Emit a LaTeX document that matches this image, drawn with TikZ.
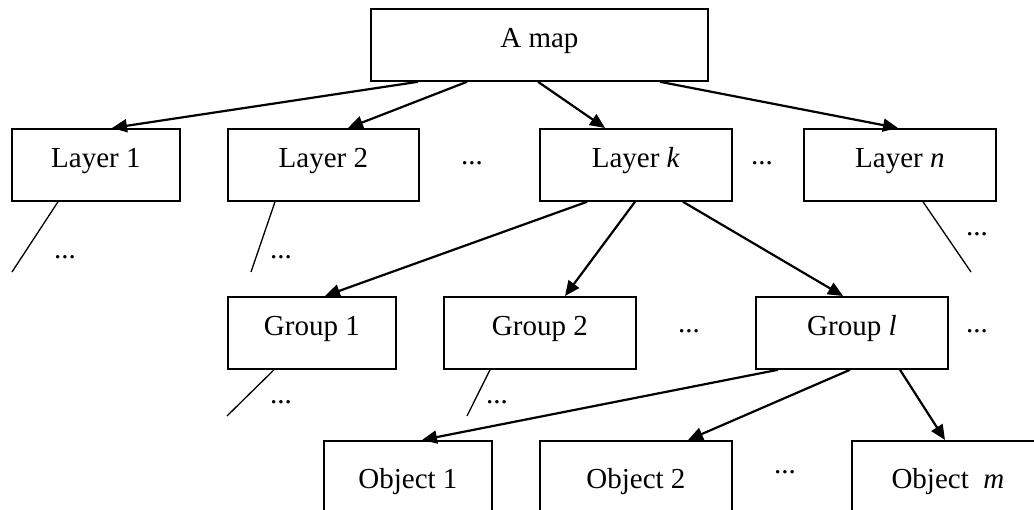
\documentclass[tikz,border=0pt]{standalone}
\usepackage{fontspec}
\setmainfont{Liberation Serif}
\usetikzlibrary{arrows.meta,calc}
\tikzset{
  box/.style={draw, line width=1.8pt, rectangle, anchor=north west, inner sep=0pt,
    minimum height=72pt, text height=39pt, text depth=33pt, align=center,
    font=\fontsize{29}{34}\selectfont},
  wbox/.style={box, minimum width=192pt},
  nbox/.style={box, minimum width=168pt},
  dots/.style={inner sep=0pt, font=\fontsize{29}{34}\selectfont},
  arr/.style={line width=2.2pt, -{Triangle[length=15pt,width=13pt]}},
  thin/.style={line width=1.3pt}
}
\begin{document}
\begin{tikzpicture}[x=1pt,y=-1pt]
\clip (0,0) rectangle (1034,510);
\fill[white] (0,0) rectangle (1034,510);
% boxes
\node[box, minimum width=337pt, minimum height=71pt] (map) at (370,8) {A map};
\node[nbox] (L1) at (11,128) {Layer 1};
\node[box, minimum width=191pt] (L2) at (227,128) {Layer 2};
\node[wbox] (Lk) at (539,128) {Layer \textit{k}};
\node[wbox] (Ln) at (803,128) {Layer \textit{n}};
\node[nbox] (G1) at (227,296) {Group 1};
\node[wbox] (G2) at (443,296) {Group 2};
\node[wbox] (Gl) at (755,296) {Group \textit{l}};
\node[nbox, minimum height=90pt] (O1) at (323,440) {Object 1};
\node[wbox, minimum height=90pt] (O2) at (539,440) {Object 2};
\node[wbox, minimum height=90pt] (Om) at (851,440) {Object \ \textit{m}};
% dots
\node[dots] (d1) at (65,257) {...};
\node[dots] (d2) at (281,257) {...};
\node[dots] (d3) at (472,163) {...};
\node[dots] (d4) at (762,163) {...};
\node[dots] (d5) at (977,234) {...};
\node[dots] (d6) at (281,402) {...};
\node[dots] (d7) at (497,402) {...};
\node[dots] (d8) at (689,331) {...};
\node[dots] (d9) at (977,331) {...};
\node[dots] (d10) at (785,472) {...};
% arrows
\draw[arr] ([xshift=48pt]map.south west) -- ([xshift=101pt]L1.north west);
\draw[arr] ([xshift=97pt]map.south west) -- ([xshift=121pt]L2.north west);
\draw[arr] ([xshift=168pt]map.south west) -- ([xshift=66pt]Lk.north west);
\draw[arr] ([xshift=290pt]map.south west) -- ([xshift=95pt]Ln.north west);
\draw[arr] ([xshift=48pt]Lk.south west) -- ([xshift=98pt]G1.north west);
\draw[arr] ([xshift=96pt]Lk.south west) -- ([xshift=122pt]G2.north west);
\draw[arr] ([xshift=144pt]Lk.south west) -- ([xshift=88pt]Gl.north west);
\draw[arr] ([xshift=23pt]Gl.south west) -- ([xshift=99pt]O1.north west);
\draw[arr] ([xshift=95pt]Gl.south west) -- ([xshift=149pt]O2.north west);
\draw[arr] ([xshift=145pt]Gl.south west) -- ([xshift=94pt]Om.north west);
% thin lines
\coordinate (e1) at (12,272);
\coordinate (e2) at (251,272);
\coordinate (e3) at (971,272);
\coordinate (e4) at (227,416);
\coordinate (e5) at (467,416);
\draw[thin] ([xshift=47pt]L1.south west) -- (e1);
\draw[thin] ([xshift=48pt]L2.south west) -- (e2);
\draw[thin] ([xshift=120pt]Ln.south west) -- (e3);
\draw[thin] ([xshift=47pt]G1.south west) -- (e4);
\draw[thin] ([xshift=47pt]G2.south west) -- (e5);
\end{tikzpicture}
\end{document}
